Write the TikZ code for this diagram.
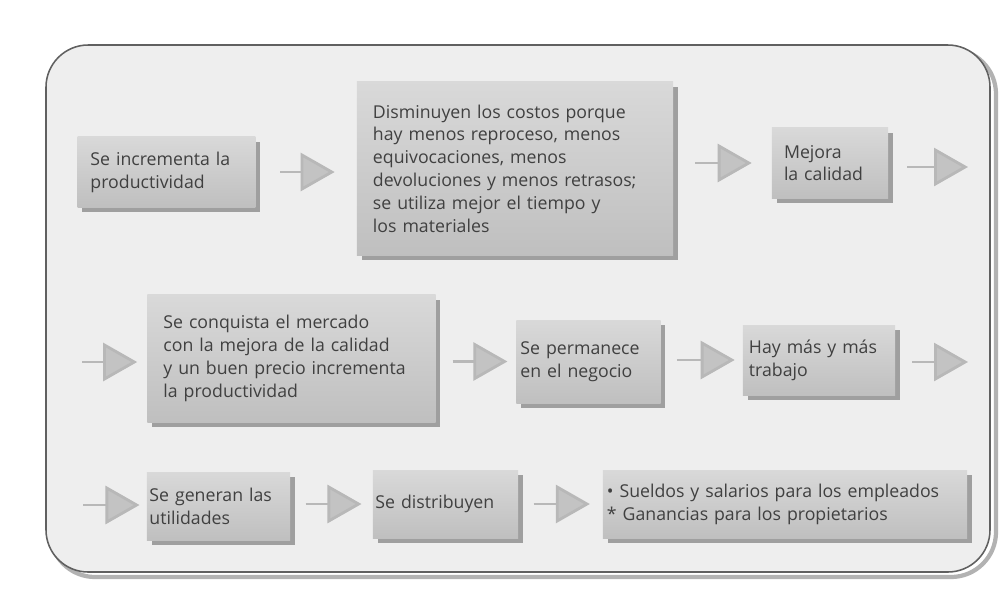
\documentclass[tikz,border=0pt]{standalone}
\usepackage{fontspec}
\setmainfont{Open Sans}
\usetikzlibrary{arrows.meta,shadows}
\definecolor{txt}{HTML}{404040}
\definecolor{framefill}{HTML}{EEEEEE}
\definecolor{arr}{HTML}{B8B8B8}
\tikzset{
  box/.style={rectangle, align=left, text=txt, inner xsep=0.35cm,
    top color=gray!30, bottom color=gray!50, draw=none,
    drop shadow={shadow xshift=0.12cm, shadow yshift=-0.12cm, fill=gray!75, opacity=1},
    font=\fontsize{12.6}{16.2}\selectfont},
  flow/.style={draw=arr, line width=2pt,
    -{Triangle[length=0.85cm, width=0.95cm, fill=arr!85]}},
}
\begin{document}
\begin{tikzpicture}[x=0.025cm,y=-0.025cm]
\useasboundingbox (0,0) rectangle (1004,601);
\fill[white] (0,0) rectangle (1004,601);
% frame
\draw[gray!60, line width=3pt, rounded corners=32] (50,49) rectangle (996,577);
\draw[gray!75!black, line width=1.1pt, fill=framefill, rounded corners=30] (46,45) rectangle (990,572);
% boxes
\node[box, minimum width=4.425cm, minimum height=1.75cm, text width=3.8cm, inner xsep=0.32cm] (b1) at (166.5,172) {Se incrementa la\\productividad};
\node[box, minimum width=7.9cm, minimum height=4.325cm, text width=7.1cm] (b2) at (515,168.5) {Disminuyen los costos porque\\hay menos reproceso, menos\\equivocaciones, menos\\devoluciones y menos retrasos;\\se utiliza mejor el tiempo y\\los materiales};
\node[box, minimum width=2.9cm, minimum height=1.75cm, text width=2.3cm, inner xsep=0.3cm] (b3) at (830,163) {Mejora\\la calidad};
\node[box, minimum width=7.075cm, minimum height=3.175cm, text width=6.4cm, inner xsep=0.4cm] (b4) at (291.5,358.5) {Se conquista el mercado\\con la mejora de la calidad\\y un buen precio incrementa\\la productividad};
\node[box, minimum width=3.575cm, minimum height=2.075cm, text width=3.4cm, inner xsep=0.1cm] (b5) at (588.5,361.5) {Se permanece\\en el negocio};
\node[box, minimum width=3.8cm, minimum height=1.75cm, text width=3.5cm, inner xsep=0.15cm] (b6) at (819,360) {Hay más y más\\trabajo};
\node[box, minimum width=3.575cm, minimum height=1.7cm, text width=3.45cm, inner xsep=0.06cm] (b7) at (218.5,506) {Se generan las\\utilidades};
\node[box, minimum width=3.625cm, minimum height=1.7cm, text width=3.5cm, inner xsep=0.06cm] (b8) at (445.5,504) {Se distribuyen};
\node[box, minimum width=9.1cm, minimum height=1.7cm, text width=8.9cm, inner xsep=0.1cm] (b9) at (785,504) {• Sueldos y salarios para los empleados\\{*} Ganancias para los propietarios};
% free ends
\coordinate (o1) at (968,167);
\coordinate (i2) at (82,362);
\coordinate (o2) at (968,362);
\coordinate (i3) at (83,505);
% connectors
\draw[flow, shorten <=0.62cm, shorten >=0.55cm] (b1.east) -- (b1.east -| b2.west);
\draw[flow, shorten <=0.55cm, shorten >=0.5cm] (b2.east |- b3.west) -- (b3.west);
\draw[flow, shorten <=0.47cm] (b3.east |- o1) -- (o1);
\draw[flow, shorten >=0.25cm] (i2) -- (i2 -| b4.west);
\draw[flow, shorten <=0.42cm, shorten >=0.22cm] (b4.east |- b5.west) -- (b5.west);
\draw[flow, shorten <=0.4cm, shorten >=0.2cm] (b5.east |- b6.west) -- (b6.west);
\draw[flow, shorten <=0.42cm] (b6.east |- o2) -- (o2);
\draw[flow, shorten >=0.18cm] (i3) -- (i3 -| b7.west);
\draw[flow, shorten <=0.38cm, shorten >=0.28cm] (b7.east |- b8.west) -- (b8.west);
\draw[flow, shorten <=0.38cm, shorten >=0.32cm] (b8.east) -- (b8.east -| b9.west);
\end{tikzpicture}
\end{document}
